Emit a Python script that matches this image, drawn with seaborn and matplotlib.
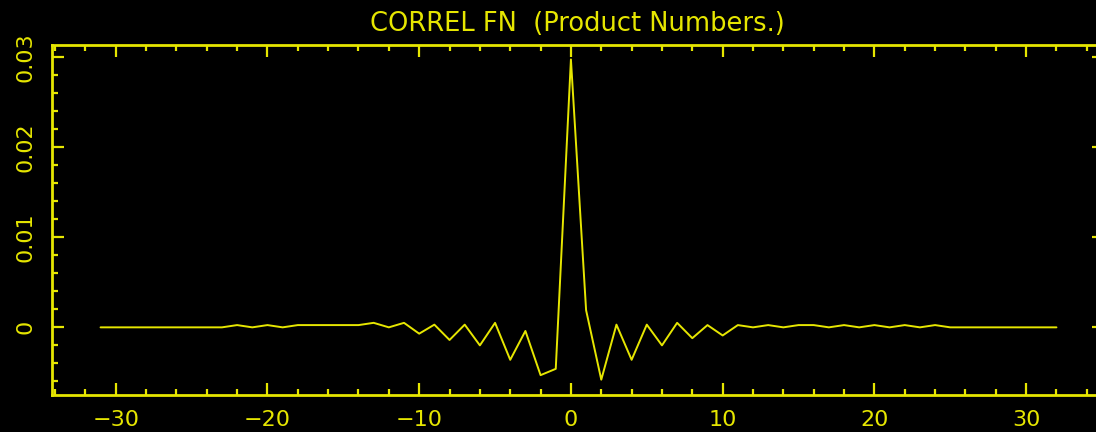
import numpy as np
import pandas as pd
import matplotlib
matplotlib.use("Agg")
import matplotlib.pyplot as plt
import seaborn as sns
from matplotlib.ticker import MultipleLocator, FuncFormatter

# lag values and correlation
lags = list(range(-31, 33))
correl = [
    0, 0, 0, 0, 0, 0, 0, 0, 0,                 # -31 .. -23
    0.00025, 0, 0.00025, 0,                     # -22 .. -19
    0.00025, 0.00025, 0.00025, 0.00025, 0.00025,  # -18 .. -14
    0.0005, 0.0, 0.0005, -0.0007,               # -13 .. -10
    0.0003, -0.0014, 0.0003, -0.002, 0.0005,    # -9 .. -5
    -0.0036, -0.0004, -0.0053, -0.0046,         # -4 .. -1
    0.0297,                                     # 0
    0.0019, -0.0058, 0.0003, -0.0036, 0.0003,   # 1 .. 5
    -0.002, 0.0005, -0.0012, 0.00025, -0.0009,  # 6 .. 10
    0.00025, 0, 0.00025, 0, 0.00025, 0.00025,   # 11 .. 16
    0, 0.00025, 0, 0.00025, 0, 0.00025, 0, 0.00025,  # 17 .. 24
    0, 0, 0, 0, 0, 0, 0, 0,                     # 25 .. 32
]
title_text = "CORREL FN  (Product Numbers.)"

df = pd.DataFrame({"lag": lags, "correl": correl})

YEL = "#e6e600"
sns.set_style("dark", {"axes.facecolor": "black", "figure.facecolor": "black"})
plt.rcParams["font.family"] = ["DejaVu Sans"]

fig = plt.figure(figsize=(10.96, 4.32), dpi=100)
ax = fig.add_axes([52 / 1096, 1 - 395 / 432, (1103.5 - 52) / 1096, (395 - 45) / 432])
ax.set_facecolor("black")

sns.lineplot(data=df, x="lag", y="correl", color=YEL, lw=1.4, ax=ax)

ax.set_xlim(-34.2, 35.1)
ax.set_ylim(-0.0075, 0.0313)
ax.set_xlabel("")
ax.set_ylabel("")
ax.grid(False)

ax.xaxis.set_major_locator(MultipleLocator(10))
ax.xaxis.set_minor_locator(MultipleLocator(2))
ax.yaxis.set_major_locator(MultipleLocator(0.01))
ax.yaxis.set_minor_locator(MultipleLocator(0.002))
ax.yaxis.set_major_formatter(FuncFormatter(lambda v, p: "%g" % round(v, 4)))

for s in ax.spines.values():
    s.set_visible(True)
    s.set_color(YEL)
    s.set_linewidth(2)

ax.tick_params(which="both", direction="in", top=True, right=True,
               bottom=True, left=True, color=YEL, labelcolor=YEL, width=1.6)
ax.tick_params(which="major", length=8.5, labelsize=16, pad=11)
ax.tick_params(which="minor", length=4.3)
ax.tick_params(axis="y", pad=12)
for lab in ax.get_yticklabels():
    lab.set_rotation(90)
    lab.set_va("center")

ax.set_title(title_text, color=YEL, fontsize=18.5, pad=10)

fig.savefig("out.png", dpi=100, facecolor="black")
